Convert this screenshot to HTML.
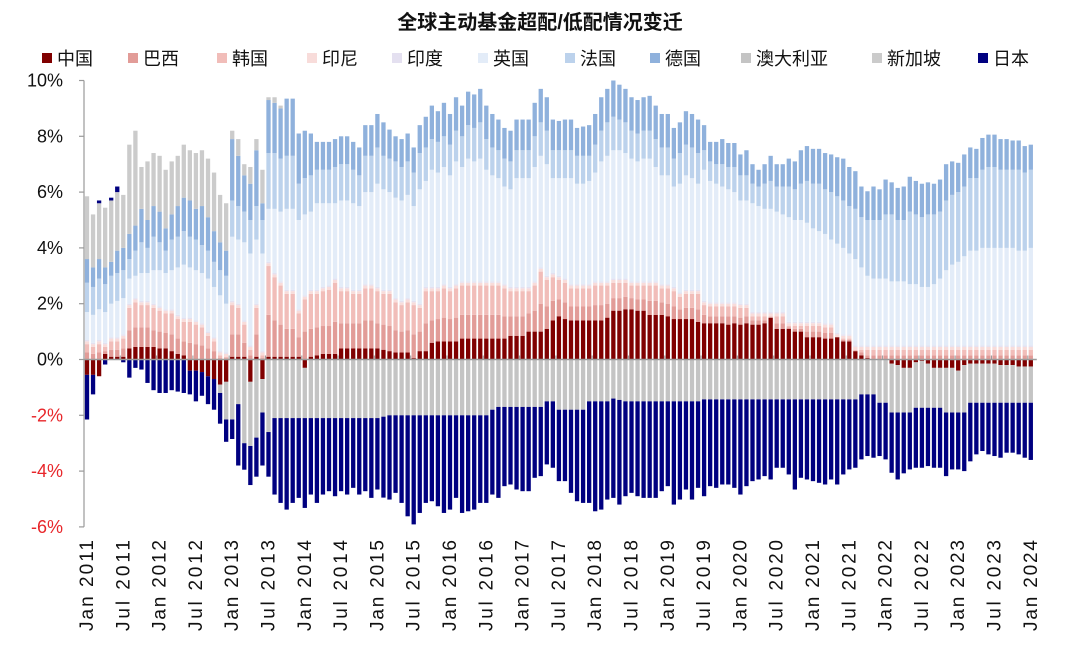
<!DOCTYPE html>
<html><head><meta charset="utf-8">
<style>
html,body{margin:0;padding:0;background:#fff;}
body{width:1080px;height:648px;overflow:hidden;font-family:"Liberation Sans","Noto Sans CJK SC",sans-serif;}
svg text{font-family:"Liberation Sans","Noto Sans CJK SC",sans-serif;}
</style></head>
<body>
<svg id="chart" width="1080" height="648" viewBox="0 0 1080 648" xmlns="http://www.w3.org/2000/svg">
<text x="540" y="29" text-anchor="middle" font-size="20" font-weight="bold" fill="#111">全球主动基金超配/低配情况变迁</text>
<g id="legend"></g>
<g id="yaxis"></g>
<g id="bars"></g>
<g id="xaxis"></g>
</svg>
<script>
const seriesNames = ["中国","巴西","韩国","印尼","印度","英国","法国","德国","澳大利亚","新加坡","日本"];
const seriesColors = ["#800000","#e29c98","#f1bdb9","#f8dcda","#e4e0f0","#e3ecf8","#bcd2ec","#8fb1dc","#c4c4c4","#cbcbcb","#000080"];
const yTicks = [10,8,6,4,2,0,-2,-4,-6];
const xLabels = ["Jan 2011","Jul 2011","Jan 2012","Jul 2012","Jan 2013","Jul 2013","Jan 2014","Jul 2014","Jan 2015","Jul 2015","Jan 2016","Jul 2016","Jan 2017","Jul 2017","Jan 2018","Jul 2018","Jan 2019","Jul 2019","Jan 2020","Jul 2020","Jan 2021","Jul 2021","Jan 2022","Jul 2022","Jan 2023","Jul 2023","Jan 2024"];

const CN = [-.55,-.55,-.6,.2,.1,.1,.1,.4,.45,.45,
.45,.45,.4,.4,.3,.2,.15,-.4,-.4,-.45,
-.6,-.7,-.9,-.8,.1,.1,.1,-.8,.1,-.7,
.1,.1,.1,.1,.1,.1,-.3,.1,.15,.2,
.2,.2,.4,.4,.4,.4,.4,.4,.4,.35,
.3,.25,.25,.25,.05,.3,.3,.6,.65,.65,
.65,.65,.75,.75,.75,.75,.75,.75,.75,.75,
.85,.85,.85,1,1,1,1.1,1.4,1.55,1.45,
1.4,1.4,1.4,1.4,1.4,1.4,1.5,1.75,1.75,1.8,
1.8,1.75,1.75,1.6,1.6,1.6,1.55,1.45,1.45,1.45,
1.45,1.35,1.3,1.3,1.3,1.3,1.25,1.3,1.25,1.3,
1.25,1.25,1.3,1.5,1.1,1.1,1.1,1,1,.8,
.8,.8,.75,.75,.8,.65,.65,.3,.15,.05,
0,0,0,-.15,-.2,-.3,-.3,-.1,-.05,-.15,
-.3,-.3,-.3,-.3,-.4,-.2,-.15,-.15,-.15,-.15,
-.15,-.2,-.2,-.2,-.25,-.25,-.25];
const BR = [.25,.2,.25,.1,.25,.25,.3,.65,.7,.7,
.7,.6,.6,.55,.6,.55,.5,.6,.55,.5,
.4,.3,.05,.05,.8,.8,.5,.15,.8,.05,
1.5,1.3,1.15,1,1,.7,1,1,1,1,
1,1.15,.9,.9,.9,.9,1,1,.9,.9,
.9,.8,.75,.8,.85,.7,1,.8,.8,.85,
.8,.85,.85,.85,.85,.85,.85,.85,.85,.8,
.7,.7,.7,.65,.75,1,.8,.7,.6,.6,
.5,.5,.5,.5,.55,.55,.5,.45,.45,.45,
.4,.4,.4,.5,.5,.45,.45,.45,.35,.4,
.4,.45,.3,.25,.25,.25,.3,.25,.25,.25,
.15,.15,.1,0,.2,.2,.05,.1,.1,.2,
.2,.2,.2,.2,0,.05,.05,0,.1,.1,
.15,.15,.15,.15,.15,.15,.15,.15,.15,.15,
.15,.15,.15,.15,.15,.15,.15,.15,.15,.15,
.15,.15,.15,.15,.15,.15,.15];
const KR = [.3,.25,.3,.15,.3,.3,.35,.8,.9,.8,
.8,.8,.75,.7,.75,.7,.7,.75,.7,.65,
.45,.35,.1,.05,1.05,.95,.65,.2,.95,.1,
1.75,1.55,1.4,1.25,1.25,.85,1.15,1.25,1.2,1.25,
1.3,1.4,1.15,1.15,1.05,1.05,1.15,1.15,1.15,1.1,
1.15,1,.95,1,1.05,.85,1.15,1.05,1,1.05,
1,1.05,1.05,1.05,1.05,1.05,1.05,1.05,1.05,1,
.9,.9,.9,.8,.9,1.15,.95,.85,.7,.7,
.65,.65,.65,.65,.7,.7,.65,.55,.55,.5,
.45,.5,.5,.55,.55,.5,.55,.55,.45,.5,
.5,.55,.35,.35,.35,.35,.35,.35,.35,.3,
.15,.15,.15,.05,.25,.25,.05,.1,.1,.2,
.2,.2,.2,.2,0,.05,.05,.05,.1,.2,
.2,.2,.2,.2,.2,.2,.2,.2,.2,.2,
.2,.2,.2,.2,.2,.2,.2,.2,.2,.2,
.2,.2,.2,.2,.2,.2,.2];
const ID = new Array(157).fill(0.1);
const IN = new Array(157).fill(0.05);
const UK = [1.0,1.0,1.1,1.1,1.2,1.3,1.3,.9,.8,1.0,
1.0,1.2,1.3,1.3,1.4,1.7,1.9,1.8,1.8,1.8,
1.9,1.8,2.0,1.75,2.3,2.3,2.8,3.3,2.3,3.5,
1.9,2.3,2.5,2.9,2.9,3.2,2.9,2.8,3.1,3.0,
2.95,2.7,3.1,3.1,3.1,3.0,3.3,3.3,3.7,3.6,
3.5,3.6,3.6,3.7,3.4,4.1,3.8,4.2,4.1,4.2,
4.0,4.4,4.1,4.4,4.3,4.4,4.0,3.8,3.7,3.5,
3.5,3.9,3.9,3.9,4.1,4.0,4.0,3.4,3.5,3.6,
3.8,3.6,3.6,3.7,3.9,4.3,4.5,4.6,4.6,4.5,
4.4,4.3,4.4,4.4,4.1,3.9,3.9,3.6,3.9,4.1,
4.0,3.8,4.7,4.35,4.25,4.15,4.05,3.95,3.7,3.7,
3.9,3.8,3.7,3.7,3.6,3.5,3.75,3.65,3.65,3.55,
3.35,3.25,3.2,3.0,3.2,3.1,2.9,3.1,2.8,2.5,
2.4,2.4,2.4,2.3,2.3,2.3,2.2,2.2,2.1,2.1,
2.2,2.4,2.7,2.9,3.0,3.2,3.4,3.4,3.5,3.5,
3.5,3.5,3.5,3.5,3.4,3.4,3.5];
const FR = [1.05,1.0,1.1,1.0,1.0,1.0,1.0,.7,.9,1.1,
.9,1.2,1.0,.8,1.1,1.1,1.2,1.1,1.1,1.0,
1.0,.9,.9,1.0,1.3,1.2,1.1,1.2,1.2,1.2,
2.0,2.0,1.9,1.9,1.9,1.3,1.3,1.3,1.2,1.2,
1.2,1.3,1.3,1.3,1.2,1.1,1.3,1.3,1.3,1.2,
1.2,1.3,1.2,1.2,1.2,1.3,1.2,1.1,1.1,1.1,
1.1,1.1,1.1,1.2,1.2,1.3,1.1,1.0,1.0,1.0,
1.0,1.0,1.0,1.0,1.1,1.2,1.2,1.0,1.0,1.0,
1.0,1.0,1.0,.9,1.0,1.1,1.2,1.2,1.1,1.1,
1.0,1.0,1.0,1.0,1.0,1.0,1.0,1.0,1.1,1.1,
1.1,1.1,.7,.7,.7,.8,.8,.9,.9,.9,
.7,.7,.9,1.0,.9,1.0,1.1,1.1,1.3,1.5,
1.6,1.7,1.6,1.7,1.7,1.7,1.7,1.8,1.8,2.0,
2.1,2.1,2.3,2.4,2.2,2.2,2.6,2.5,2.5,2.6,
2.5,2.4,2.5,2.5,2.5,2.5,2.6,2.6,2.8,2.9,
2.9,2.8,2.8,2.8,2.9,2.8,2.8];
const DE = [.85,.7,.7,.6,.5,.8,.8,.9,.9,1.2,
1.0,1.1,1.1,.8,.9,1.1,1.2,1.3,1.1,1.4,
1.2,1.1,1.0,.9,2.2,1.8,1.3,1.3,2.0,.6,
1.9,1.8,1.8,2.05,2.05,1.8,1.7,1.5,1.0,1.0,
1.0,1.0,1.0,1.0,1.0,1.0,1.1,1.1,1.2,1.2,
1.04,.9,1.0,1.0,.9,1.0,1.1,1.2,1.1,1.2,
1.1,1.2,1.1,1.2,1.2,1.2,1.2,1.2,1.1,1.1,
1.1,1.1,1.1,1.1,1.2,1.2,1.2,1.1,1.05,1.1,
1.1,1.0,1.05,1.1,1.1,1.2,1.2,1.3,1.25,1.2,
1.2,1.2,1.2,1.25,1.2,1.2,1.2,1.1,1.1,1.2,
1.2,1.2,.9,.7,.8,.9,.86,.86,.75,.9,
.7,.6,.7,.9,.8,.8,1.0,1.0,1.2,1.25,
1.25,1.25,1.3,1.35,1.4,1.5,1.4,1.35,1.1,1.03,
1.2,1.1,1.25,1.15,1.15,1.2,1.25,1.2,1.2,1.15,
1.1,1.15,1.3,1.2,1.05,1.15,1.1,1.05,1.14,1.16,
1.16,1.1,1.1,1.05,1.05,.95,.9];
const AU = [0,0,0,0,0,0,0,0,0,0,
0,0,0,0,0,0,0,0,0,0,
0,0,-.3,-1.35,-2.15,-1.6,-3.0,-2.3,-2.8,-1.2,
-2.6,-2.1,-2.1,-2.1,-2.1,-2.1,-1.8,-2.1,-2.1,-2.1,
-2.1,-2.1,-2.1,-2.1,-2.1,-2.1,-2.1,-2.1,-2.1,-2.05,
-2.0,-2.0,-2.0,-2.0,-2.0,-2.0,-2.0,-2.0,-2.0,-2.0,
-2.0,-2.0,-2.0,-2.0,-2.0,-2.0,-2.0,-1.8,-1.7,-1.7,
-1.7,-1.7,-1.7,-1.7,-1.7,-1.7,-1.5,-1.5,-1.8,-1.8,
-1.8,-1.8,-1.8,-1.5,-1.5,-1.5,-1.5,-1.4,-1.45,-1.5,
-1.5,-1.5,-1.5,-1.5,-1.5,-1.5,-1.5,-1.5,-1.5,-1.5,
-1.5,-1.5,-1.43,-1.43,-1.43,-1.43,-1.43,-1.43,-1.43,-1.43,
-1.43,-1.43,-1.43,-1.43,-1.43,-1.43,-1.43,-1.43,-1.43,-1.43,
-1.43,-1.43,-1.43,-1.43,-1.43,-1.43,-1.43,-1.43,-1.25,-1.25,
-1.25,-1.55,-1.55,-1.75,-1.7,-1.6,-1.6,-1.63,-1.68,-1.58,
-1.43,-1.43,-1.6,-1.6,-1.5,-1.7,-1.4,-1.4,-1.4,-1.4,
-1.4,-1.35,-1.35,-1.35,-1.3,-1.3,-1.3];
const SG = [2.25,1.9,2.0,2.14,2.2,2.1,1.9,3.2,3.4,1.5,
2.1,1.9,2.0,2.1,1.9,1.8,1.9,1.8,2.0,2.0,
2.1,2.1,1.7,1.7,.3,.6,.4,.6,.4,1.2,
.1,.2,.1,0,0,0,0,0,0,0,
0,0,0,0,0,0,0,0,0,0,
0,0,0,0,0,0,0,0,0,0,
0,0,0,0,0,0,0,0,0,0,
0,0,0,0,0,0,0,0,0,0,
0,0,0,0,0,0,0,0,0,0,
0,0,0,0,0,0,0,0,0,0,
0,0,0,0,0,0,0,0,0,0,
0,0,0,0,0,0,0,0,0,0,
0,0,0,0,0,0,0,0,0,0,
0,0,0,0,0,0,0,0,0,0,
0,0,0,0,0,0,0,0,0,0,
0,0,0,0,0,0,0];
const JP = [-1.6,-.7,.1,-.18,.1,.2,-.1,-.65,-.3,-.36,
-.84,-1.1,-1.2,-1.2,-1.1,-1.15,-1.2,-.85,-1.1,-.85,
-1.0,-1.1,-1.1,-.8,-.7,-2.2,-.95,-1.4,-1.4,-1.9,
-1.6,-2.74,-3.04,-3.28,-3.04,-2.86,-3.22,-2.74,-3.04,-2.74,
-2.62,-2.8,-2.62,-2.74,-2.5,-2.74,-2.62,-2.86,-2.56,-2.9,
-3.02,-2.78,-3.14,-3.62,-3.91,-3.5,-3.14,-3.08,-3.26,-3.5,
-3.38,-2.96,-3.5,-3.44,-3.38,-3.14,-3.14,-3.04,-3.26,-2.84,
-2.78,-2.96,-3.02,-3.02,-2.54,-2.48,-2.26,-2.38,-2.56,-2.56,
-2.98,-3.28,-3.34,-3.64,-3.94,-3.88,-3.52,-3.56,-3.75,-3.4,
-3.28,-3.4,-3.46,-3.46,-3.46,-3.22,-3.04,-3.7,-3.52,-3.16,
-3.52,-3.1,-3.47,-3.11,-3.17,-3.05,-3.05,-3.17,-3.41,-3.11,
-2.93,-2.87,-2.75,-2.87,-2.45,-2.45,-2.69,-3.23,-2.81,-2.87,
-2.93,-2.99,-3.05,-2.87,-3.05,-2.69,-2.51,-2.45,-2.33,-2.21,
-2.27,-1.91,-2.03,-2.16,-2.4,-2.18,-2.04,-2.15,-2.15,-2.09,
-2.15,-2.15,-2.28,-2.04,-2.04,-2.1,-2.1,-1.85,-1.73,-1.85,
-1.91,-1.97,-1.79,-1.79,-1.85,-1.97,-2.05];

const series = [CN,BR,KR,ID,IN,UK,FR,DE,AU,SG,JP];
const seriesKeys = ["china","brazil","korea","indonesia","india","uk","france","germany","australia","singapore","japan"];

const NS = "http://www.w3.org/2000/svg";
const X0 = 87, STEP = 6.05, BW = 4.3;
const Y0 = 359.5, PX = 27.9, AXIS_X = 84;
function xScale(i){ return X0 + STEP * i; }
function yScale(v){ return Y0 - v * PX; }
function mk(tag, attrs, parent){
  const e = document.createElementNS(NS, tag);
  for (const k in attrs) e.setAttribute(k, attrs[k]);
  parent.appendChild(e);
  return e;
}

// legend
const legendX = [42,128,217,307,392,478,565,650,741,872,978];
const lg = document.getElementById('legend');
seriesNames.forEach((nm, s) => {
  const g = mk('g', {}, lg);
  
  
  mk('rect', {x: legendX[s], y: 53, width: 10, height: 10, fill: seriesColors[s]}, g);
  const t = mk('text', {x: legendX[s] + 15, y: 65, 'font-size': 18, fill: '#111'}, g);
  t.textContent = nm;
});

// y axis
const ya = document.getElementById('yaxis');
const axl = mk('line', {x1: AXIS_X, x2: AXIS_X, y1: yScale(10), y2: yScale(-6), stroke: '#9a9a9a', 'stroke-width': 1.2}, ya);


yTicks.forEach(v => {
  const y = yScale(v);
  mk('line', {x1: AXIS_X - 5, x2: AXIS_X, y1: y, y2: y, stroke: '#9a9a9a', 'stroke-width': 1.2}, ya);
  const t = mk('text', {x: 63, y: y + 6, 'text-anchor': 'end', 'font-size': 18, fill: v < 0 ? '#e8262a' : '#111'}, ya);
  
  
  t.textContent = v + '%';
});

// bars
const bg = document.getElementById('bars');
const n = CN.length;
for (let i = 0; i < n; i++) {
  let pos = 0, neg = 0;
  const x = xScale(i) - BW / 2;
  for (let s = 0; s < series.length; s++) {
    const v = series[s][i];
    if (!v) continue;
    let yTop, h;
    if (v > 0) { yTop = yScale(pos + v); h = v * PX; pos += v; }
    else { yTop = yScale(neg); h = -v * PX; neg += v; }
    const r = mk('rect', {x: x.toFixed(2), y: yTop.toFixed(2), width: BW, height: h.toFixed(2), fill: seriesColors[s]}, bg);
    
    
  }
}

// x axis
const xa = document.getElementById('xaxis');
const zl = mk('line', {x1: AXIS_X, x2: xScale(n - 1) + 6, y1: Y0, y2: Y0, stroke: '#9a9a9a', 'stroke-width': 1.5}, xa);


xLabels.forEach((lab, k) => {
  const i = k * 6;
  const tx = xScale(i) - STEP / 2;
  mk('line', {x1: tx, x2: tx, y1: Y0 - 4, y2: Y0, stroke: '#9a9a9a', 'stroke-width': 1}, xa);
  const cx = xScale(i) - 1;
  const t = mk('text', {x: 0, y: 0, 'font-size': 19, fill: '#111', 'text-anchor': 'end', textLength: 91, lengthAdjust: 'spacing', transform: 'translate(' + (cx + 7) + ',540) rotate(-90)'}, xa);
  
  
  t.textContent = lab;
});
</script>
</body></html>
